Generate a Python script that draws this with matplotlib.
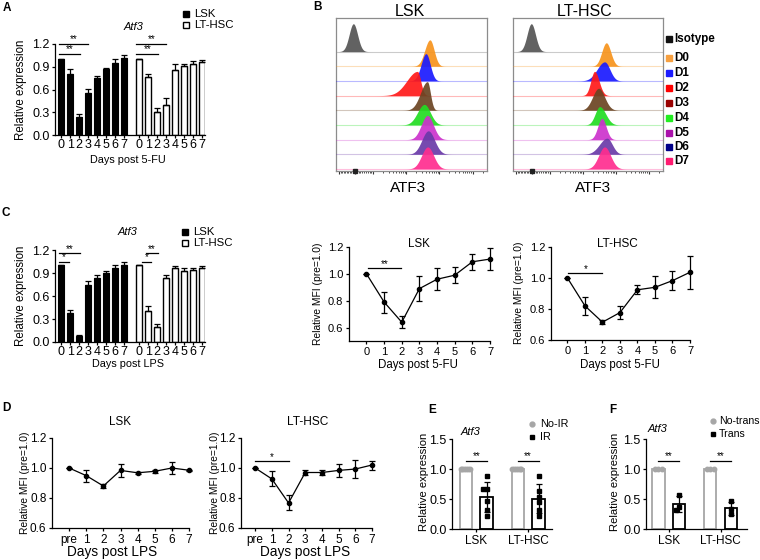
import numpy as np
import matplotlib
matplotlib.use("Agg")
import matplotlib.pyplot as plt

plt.rcParams['font.family'] = ['Liberation Sans', 'DejaVu Sans']

W, H = 760, 560

# ---------------- data ----------------
days = [0, 1, 2, 3, 4, 5, 6, 7]
lps_labels = ['pre', '1', '2', '3', '4', '5', '6', '7']

# A: Atf3 qPCR after 5-FU
a_lsk = [1.00, 0.80, 0.24, 0.55, 0.75, 0.87, 0.95, 1.02]
a_lsk_err = [0.00, 0.07, 0.04, 0.05, 0.03, 0.02, 0.05, 0.03]
a_lt = [1.00, 0.76, 0.30, 0.40, 0.86, 0.91, 0.94, 0.96]
a_lt_err = [0.00, 0.05, 0.06, 0.09, 0.07, 0.03, 0.03, 0.03]

# C: Atf3 qPCR after LPS
c_lsk = [1.00, 0.38, 0.08, 0.75, 0.84, 0.90, 0.97, 1.01]
c_lsk_err = [0.00, 0.04, 0.01, 0.05, 0.03, 0.03, 0.04, 0.03]
c_lt = [1.00, 0.41, 0.19, 0.84, 0.97, 0.93, 0.94, 0.96]
c_lt_err = [0.00, 0.06, 0.04, 0.04, 0.02, 0.03, 0.03, 0.03]

# B (lower right): relative MFI after 5-FU
fu_lsk = [1.00, 0.79, 0.64, 0.89, 0.96, 0.99, 1.09, 1.11]
fu_lsk_err = [0.00, 0.078, 0.045, 0.094, 0.08, 0.06, 0.06, 0.083]
fu_lt = [1.00, 0.82, 0.715, 0.777, 0.924, 0.94, 0.983, 1.037]
fu_lt_err = [0.00, 0.06, 0.012, 0.04, 0.028, 0.072, 0.06, 0.105]

# D: relative MFI after LPS
lps_lsk = [1.00, 0.949, 0.88, 0.984, 0.968, 0.978, 1.00, 0.985]
lps_lsk_err = [0.00, 0.04, 0.015, 0.045, 0.005, 0.012, 0.04, 0.005]
lps_lt = [1.00, 0.927, 0.767, 0.97, 0.97, 0.984, 0.993, 1.02]
lps_lt_err = [0.00, 0.05, 0.05, 0.015, 0.015, 0.045, 0.06, 0.03]

# E: irradiation
e_noir_lsk = [1.0, 1.0, 1.0, 1.0, 1.0, 1.0]
e_ir_lsk = [0.89, 0.66, 0.66, 0.46, 0.32, 0.21]
e_noir_lt = [1.0, 1.0, 1.0, 1.0, 1.0, 1.0]
e_ir_lt = [0.89, 0.64, 0.54, 0.45, 0.32, 0.21]

# F: transplantation
f_notrans_lsk = [1.0, 1.0, 1.0]
f_trans_lsk = [0.56, 0.36, 0.32]
f_notrans_lt = [1.0, 1.0, 1.0]
f_trans_lt = [0.46, 0.33, 0.25]

# B: flow histograms (peak position on the ATF3 axis, spread left/right, peak height in rows)
flow_rows = ['Isotype', 'D0', 'D1', 'D2', 'D3', 'D4', 'D5', 'D6', 'D7']
lsk_peak = [0.115, 0.622, 0.596, 0.539, 0.605, 0.585, 0.605, 0.611, 0.607]
lsk_sd_left = [0.028, 0.034, 0.032, 0.070, 0.045, 0.045, 0.040, 0.042, 0.040]
lsk_sd_right = [0.028, 0.028, 0.028, 0.022, 0.020, 0.040, 0.040, 0.042, 0.040]
lsk_height = [1.9, 1.8, 1.86, 1.65, 1.95, 1.4, 1.65, 1.6, 1.5]
lt_peak = [0.122, 0.622, 0.611, 0.544, 0.571, 0.578, 0.593, 0.627, 0.611]
lt_sd_left = [0.028, 0.030, 0.050, 0.025, 0.040, 0.030, 0.028, 0.050, 0.040]
lt_sd_right = [0.028, 0.030, 0.035, 0.030, 0.040, 0.040, 0.028, 0.035, 0.040]
lt_height = [1.9, 1.6, 1.3, 1.65, 1.5, 1.25, 1.45, 1.1, 1.5]

hist_colors = ['#555555', '#f7941d', '#1a1aff', '#ff1a1a', '#6b4423', '#22dd22',
               '#cc33cc', '#6a3aa8', '#ff2d8f']
legend_colors = ['#111111', '#f7a040', '#1a1aff', '#ff0000', '#990000', '#22ee22',
                 '#aa11aa', '#000088', '#ff1a70']

LT_OFF = 8.67


def px_axes(fig, left, top, right, bottom):
    return fig.add_axes([left / W, 1 - bottom / H, (right - left) / W, (bottom - top) / H])


def prism(ax, size=8):
    for s in ('top', 'right'):
        ax.spines[s].set_visible(False)
    for s in ('left', 'bottom'):
        ax.spines[s].set_linewidth(0.9)
    ax.tick_params(length=2.5, width=0.9, labelsize=size, pad=1.5)


def sig(ax, x0, x1, y, label):
    ax.plot([x0, x1], [y, y], color='black', lw=0.9, clip_on=False)
    ax.text((x0 + x1) / 2, y - 0.005, label, ha='center', va='bottom', fontsize=7)


def bar_panel(ax, lsk, lsk_err, lt, lt_err):
    x_lsk = np.arange(len(lsk))
    x_lt = np.arange(len(lt)) + LT_OFF
    zeros = np.zeros(len(lsk))
    ax.bar(x_lsk, lsk, width=0.66, color='black', edgecolor='black', lw=0.8)
    ax.errorbar(x_lsk, lsk, yerr=[zeros, lsk_err], fmt='none', ecolor='black',
                elinewidth=0.9, capsize=2, capthick=0.9)
    ax.bar(x_lt, lt, width=0.66, color='white', edgecolor='black', lw=1.0)
    ax.errorbar(x_lt, lt, yerr=[zeros, lt_err], fmt='none', ecolor='black',
                elinewidth=0.9, capsize=2, capthick=0.9)
    ax.set_xlim(-0.7, 16.0)
    ax.set_ylim(0, 1.2)
    ax.set_yticks([0, 0.3, 0.6, 0.9, 1.2])
    ax.set_yticklabels(['0.0', '0.3', '0.6', '0.9', '1.2'])
    ax.set_xticks(np.concatenate([x_lsk, x_lt]))
    ax.set_xticklabels([str(d) for d in days] * 2)
    prism(ax, 9)
    ax.tick_params(axis='x', length=2, pad=1)


def line_panel(ax, vals, errs, labels, xlim, ylim, size):
    x = np.arange(len(vals))
    ax.errorbar(x, vals, yerr=errs, fmt='-o', color='black', ms=3, lw=0.9,
                elinewidth=0.9, capsize=2, capthick=0.9, clip_on=False)
    ax.set_xlim(*xlim)
    ax.set_ylim(*ylim)
    ax.set_yticks([0.6, 0.8, 1.0, 1.2])
    ax.set_xticks(x)
    ax.set_xticklabels(labels)
    prism(ax, size)


def swarm(vals, step):
    placed, offs = [], []
    for v in vals:
        for k in [0, -1, 1, -2, 2, -3, 3]:
            o = k * step
            if all(abs(v - pv) > 0.07 or abs(o - po) > step * 0.9 for pv, po in placed):
                break
        placed.append((v, o))
        offs.append(o)
    return np.array(offs)


def dot_bar_panel(ax, groups, xlim, ctrl_step):
    # groups: list of (control values, treated values)
    for gi, (ctrl, trt) in enumerate(groups):
        xc, xt = gi - 0.2, gi + 0.2
        ax.bar(xc, np.mean(ctrl), width=0.24, color='white', edgecolor='#a6a6a6', lw=1.3)
        ax.plot(xc + swarm(ctrl, ctrl_step), ctrl, 'o', color='#a6a6a6', ms=3.2, zorder=4)
        ax.bar(xt, np.mean(trt), width=0.24, color='white', edgecolor='black', lw=1.3)
        ax.errorbar(xt, np.mean(trt), yerr=np.std(trt, ddof=1), fmt='none', ecolor='black',
                    elinewidth=0.9, capsize=2.5, capthick=0.9, zorder=5)
        ax.plot(xt + swarm(trt, 0.07), trt, 's', color='black', ms=3.2, zorder=6)
        sig(ax, xc, xt, 1.13, '**')
    ax.set_xlim(*xlim)
    ax.set_ylim(0, 1.5)
    ax.set_yticks([0, 0.5, 1.0, 1.5])
    ax.set_yticklabels(['0.0', '0.5', '1.0', '1.5'])
    ax.set_xticks([0, 1])
    ax.set_xticklabels(['LSK', 'LT-HSC'])
    prism(ax, 9)
    ax.tick_params(axis='x', labelsize=8.5)


def flow_panel(ax, peak, sdl, sdr, height):
    x = np.linspace(0, 1, 600)
    n = len(flow_rows)
    for i in range(n):
        base = n - 1 - i
        sd = np.where(x < peak[i], sdl[i], sdr[i])
        y = height[i] * np.exp(-0.5 * ((x - peak[i]) / sd) ** 2)
        ax.plot([0, 1], [base, base], color=hist_colors[i], alpha=0.3, lw=0.8, zorder=2 + i)
        ax.fill_between(x, base, base + y, color=hist_colors[i], alpha=0.92, lw=0, zorder=2 + i)
    ax.set_xlim(0, 1)
    ax.set_ylim(-0.14, 10.29)
    ax.set_yticks([])
    starts = [0.245, 0.465, 0.684, 0.905]
    major = [0.02, 0.126] + starts
    minor = [s + 0.22 * np.log10(k) for s in starts for k in range(2, 10)]
    minor += [0.03 + 0.01 * k for k in range(9)] + [0.15 + 0.012 * k for k in range(8)]
    ax.set_xticks(major)
    ax.set_xticks([m for m in minor if m < 1], minor=True)
    ax.set_xticklabels([])
    ax.tick_params(axis='x', which='major', length=2.5, width=0.8, color='#333333')
    ax.tick_params(axis='x', which='minor', length=1.5, width=0.6, color='#333333')
    ax.plot([0.126], [-0.14], 's', color='#222222', ms=2.5, clip_on=False, zorder=20)
    for s in ax.spines.values():
        s.set_color('#8c8c8c')
        s.set_linewidth(0.9)


fig = plt.figure(figsize=(W / 100, H / 100), dpi=100)

# A
axA = px_axes(fig, 55, 44, 205, 135)
bar_panel(axA, a_lsk, a_lsk_err, a_lt, a_lt_err)
sig(axA, -0.3, 2.1, 1.07, '**')
sig(axA, -0.3, 3.0, 1.2, '**')
sig(axA, LT_OFF - 0.3, LT_OFF + 2.1, 1.07, '**')
sig(axA, LT_OFF - 0.3, LT_OFF + 3.0, 1.2, '**')

# C
axC = px_axes(fig, 55, 250, 205, 342)
bar_panel(axC, c_lsk, c_lsk_err, c_lt, c_lt_err)
sig(axC, -0.3, 2.1, 1.157, '**')
sig(axC, -0.3, 0.9, 1.05, '*')
sig(axC, LT_OFF + 0.8, LT_OFF + 2.1, 1.157, '**')
sig(axC, LT_OFF + 0.3, LT_OFF + 1.3, 1.05, '*')

# B flow
axB1 = px_axes(fig, 336, 18, 487, 171)
flow_panel(axB1, lsk_peak, lsk_sd_left, lsk_sd_right, lsk_height)
axB2 = px_axes(fig, 513, 18, 663, 171)
flow_panel(axB2, lt_peak, lt_sd_left, lt_sd_right, lt_height)

# MFI after 5-FU
axM1 = px_axes(fig, 349, 247, 490, 341)
line_panel(axM1, fu_lsk, fu_lsk_err, [str(d) for d in days], (-0.99, 7), (0.5, 1.2), 8)
sig(axM1, 0.07, 1.95, 1.04, '**')
axM2 = px_axes(fig, 551, 247, 690, 340)
line_panel(axM2, fu_lt, fu_lt_err, [str(d) for d in days], (-0.94, 7), (0.6, 1.2), 8)
sig(axM2, 0.04, 2.0, 1.03, '*')

# D
axD1 = px_axes(fig, 52, 438, 189, 528)
line_panel(axD1, lps_lsk, lps_lsk_err, lps_labels, (-1.0, 7), (0.6, 1.2), 8.5)
axD2 = px_axes(fig, 241, 438, 372, 528)
line_panel(axD2, lps_lt, lps_lt_err, lps_labels, (-0.85, 7), (0.6, 1.2), 8.5)
sig(axD2, 0.0, 2.0, 1.044, '*')

# E / F
axE = px_axes(fig, 452, 439, 552, 529)
dot_bar_panel(axE, [(e_noir_lsk, e_ir_lsk), (e_noir_lt, e_ir_lt)], (-0.47, 1.46), 0.035)
axF = px_axes(fig, 646, 439, 747, 529)
dot_bar_panel(axF, [(f_notrans_lsk, f_trans_lsk), (f_notrans_lt, f_trans_lt)], (-0.44, 1.51), 0.07)

# text overlay in pixel coordinates
ov = fig.add_axes([0, 0, 1, 1], zorder=30)
ov.set_xlim(0, W)
ov.set_ylim(H, 0)
ov.axis('off')


def t(x, y, s, ha='center', va='center', **kw):
    ov.text(x, y, s, ha=ha, va=va, **kw)


def bold(x, y, s):
    t(x, y, s, weight='bold', size=8.5)


bold(7, 8, 'A')
bold(318, 7, 'B')
bold(6, 213, 'C')
bold(6, 408, 'D')
bold(432, 410, 'E')
bold(613, 410, 'F')

# A labels
t(133, 27, 'Atf3', style='italic', size=8)
ov.plot(186, 14, 's', ms=5, color='black')
t(194, 14, 'LSK', ha='left', size=8.2)
ov.plot(186, 25, 's', ms=5, mfc='white', mec='black', mew=1)
t(194, 25, 'LT-HSC', ha='left', size=8.2)
t(21, 90, 'Relative expression', rotation=90, size=8.3)
t(128, 160, 'Days post 5-FU', size=7.8)

# C labels
t(127, 232, 'Atf3', style='italic', size=8)
ov.plot(185, 232, 's', ms=5, color='black')
t(193, 232, 'LSK', ha='left', size=8.2)
ov.plot(185, 243, 's', ms=5, mfc='white', mec='black', mew=1)
t(193, 243, 'LT-HSC', ha='left', size=8.2)
t(21, 296, 'Relative expression', rotation=90, size=8.3)
t(128, 364, 'Days post LPS', size=7.8)

# B labels
t(410, 12, 'LSK', size=11.5)
t(585, 12, 'LT-HSC', size=11.5)
t(408, 188, 'ATF3', size=11)
t(593, 188, 'ATF3', size=11)
leg_y = [39, 58, 73, 88, 103, 118, 133, 147, 161]
for name, col, y in zip(flow_rows, legend_colors, leg_y):
    ov.plot(669, y, 's', ms=4.5, color=col)
    t(674, y, name, ha='left', weight='bold', size=8.4)

# MFI 5-FU labels
t(419, 244, 'LSK', size=8.3)
t(617, 244, 'LT-HSC', size=8.5)
t(318, 294, 'Relative MFI (pre=1.0)', rotation=90, size=7.4)
t(519, 293, 'Relative MFI (pre=1.0)', rotation=90, size=7.4)
t(418, 365, 'Days post 5-FU', size=8.3)
t(620, 365, 'Days post 5-FU', size=8.3)

# D labels
t(120, 422, 'LSK', size=8.4)
t(308, 422, 'LT-HSC', size=8.6)
t(25, 483, 'Relative MFI (pre=1.0)', rotation=90, size=7.4)
t(215, 483, 'Relative MFI (pre=1.0)', rotation=90, size=7.4)
t(112, 552, 'Days post LPS', size=9.8)
t(305, 552, 'Days post LPS', size=9.8)

# E labels
t(470, 432, 'Atf3', style='italic', size=8)
ov.plot(532, 424, 'o', ms=3.5, color='#a6a6a6')
t(540, 424, 'No-IR', ha='left', size=7.8)
ov.plot(532, 437, 's', ms=3.5, color='black')
t(540, 437, 'IR', ha='left', size=7.8)
t(424, 482, 'Relative expression', rotation=90, size=8.1)

# F labels
t(657, 429, 'Atf3', style='italic', size=8)
ov.plot(713, 421, 'o', ms=3.5, color='#a6a6a6')
t(719, 421, 'No-trans', ha='left', size=7.6)
ov.plot(713, 434, 's', ms=3.5, color='black')
t(719, 434, 'Trans', ha='left', size=7.6)
t(615, 482, 'Relative expression', rotation=90, size=8.1)

fig.savefig('out.png', dpi=100)
